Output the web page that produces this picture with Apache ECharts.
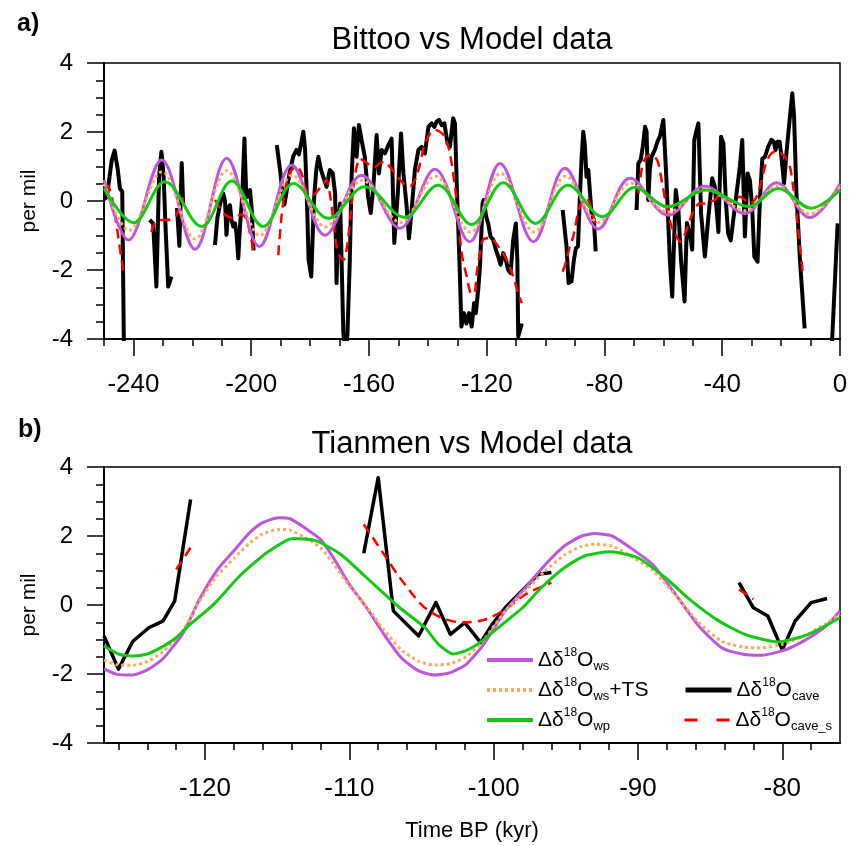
<!DOCTYPE html>
<html><head><meta charset="utf-8">
<script src="https://cdn.jsdelivr.net/npm/echarts@6/dist/echarts.min.js"></script>
<style>html,body{margin:0;padding:0;background:#fff}#c{width:851px;height:846px}</style>
</head><body><div id="c"></div>
<script>
// ---------------- Panel a : Bittoo ----------------
const aXMajor = [-240, -200, -160, -120, -80, -40, 0];
const aXMinor = [-250, -240, -230, -220, -210, -200, -190, -180, -170, -160, -150, -140, -130, -120, -110, -100, -90, -80, -70, -60, -50, -40, -30, -20, -10, 0];

// model curves (extrema)
const aWs = [[-250,0.61],[-241.7,-1.13],[-230.4,1.19],[-219.1,-1.40],[-208.3,1.24],[-197.2,-1.32],[-186.2,1.04],[-174.9,-0.99],[-162.5,0.75],[-149.5,-0.79],[-137.6,0.92],[-125.8,-1.18],[-115.5,1.09],[-104.1,-1.18],[-93.4,0.95],[-82.1,-0.81],[-71.3,0.66],[-58.3,-0.41],[-45.9,0.43],[-32.3,-0.36],[-21.5,0.53],[-10.2,-0.48],[0,0.50]];
const aWsTs = [[-250,0.50],[-241.5,-0.85],[-230.3,0.85],[-219.1,-1.10],[-208.3,0.88],[-197.0,-1.00],[-186.0,0.75],[-174.8,-0.75],[-162.3,0.60],[-149.3,-0.62],[-137.4,0.72],[-125.5,-0.90],[-115.3,0.80],[-103.8,-0.90],[-93.2,0.72],[-82.0,-0.62],[-71.0,0.52],[-58.5,-0.32],[-45.8,0.36],[-32.2,-0.28],[-21.3,0.44],[-10.3,-0.38],[0,0.42]];
const aWp = [[-250,0.37],[-240.0,-0.63],[-229.3,0.56],[-216.8,-0.74],[-206.6,0.58],[-195.9,-0.74],[-185.6,0.51],[-173.8,-0.50],[-161.4,0.41],[-147.9,-0.47],[-136.5,0.46],[-125.1,-0.68],[-114.4,0.53],[-103.4,-0.65],[-92.4,0.46],[-80.7,-0.45],[-69.7,0.39],[-58.5,-0.17],[-45.5,0.32],[-31.0,-0.16],[-21.0,0.36],[-9.8,-0.21],[0,0.32]];

// cave record (segments separated by null)
const aCave = [
 [-250.0,0.05],[-249.0,0.12],[-247.4,1.17],[-246.4,1.46],[-245.3,0.9],[-244.6,0.36],[-243.8,0.27],[-243.2,-4.6],[-240,null],
 [-234.5,-0.55],[-233.3,-0.65],[-232.2,-2.48],[-231.3,0.7],[-230.5,1.43],[-229.8,0.8],[-229.0,-0.94],[-228.2,-2.48],[-227.1,-2.19],[-226,null],
 [-225.2,-0.2],[-224.4,-1.3],[-223.6,1.1],[-223.1,-0.1],[-220,null],
 [-212.3,-1.28],[-211.5,-0.5],[-210.6,-0.1],[-209.5,0.22],[-208.9,0.0],[-208.4,-0.98],[-207.8,-0.2],[-207.2,-0.12],[-206.7,-0.55],[-206.1,-0.74],[-205.5,-0.65],[-205.0,-0.94],[-204.4,-1.66],[-203.8,-0.74],[-203.0,0.22],[-202.3,1.81],[-201.7,0.22],[-201.2,0.12],[-200.4,0.32],[-199.8,-0.26],[-199.2,-1.43],[-195,null],
 [-191.3,1.62],[-190.2,0.9],[-189.3,0.22],[-188.7,-0.1],[-186.8,0.9],[-185.7,1.3],[-184.6,1.48],[-183.8,1.35],[-183.2,1.6],[-182.3,2.01],[-181.7,1.5],[-181.2,0.41],[-180.5,-1.71],[-179.6,-2.19],[-178.7,0.0],[-177.9,0.9],[-177.2,1.28],[-176.3,0.9],
 [-174.4,0.41],[-173.3,0.9],[-172.3,0.8],[-171.5,0.22],[-171.0,-2.38],[-170.4,-0.55],[-169.8,-0.07],[-169.3,-1.71],[-168.7,-3.84],[-167.9,-4.4],[-167.3,-3.84],[-166.5,-1.71],[-165.9,0.7],[-165.1,2.11],[-164.2,1.28],[-163.4,2.2],[-162.3,1.67],[-161.4,1.28],[-160.3,0.13],[-159.4,-0.35],[-158.5,0.41],[-157.4,1.91],[-156.6,0.8],[-155.7,1.48],[-154.6,1.38],[-153.4,1.62],[-152.3,1.81],[-151.4,-1.22],[-150.2,0.22],[-149.1,1.96],[-148.3,0.8],[-147.2,-0.16],[-146.4,-1.08],[-145.5,-0.26],[-144.4,0.9],[-143.2,1.48],[-142.1,1.57],[-141.0,1.38],[-139.8,2.15],[-138.7,2.25],[-137.8,2.15],[-137.0,2.3],[-136.2,2.35],[-135.3,2.2],[-134.4,2.25],[-133.3,1.67],[-132.5,1.57],[-131.4,2.4],[-130.8,2.25],[-130.0,0.03],[-129.2,-1.9],[-128.6,-3.64],[-127.7,-3.25],[-126.9,-3.55],[-126.0,-3.25],[-125.1,-3.64],[-124.3,-2.96],[-123.7,-3.25],[-122.9,-2.58],[-122.3,-1.9],[-121.4,-0.07],[-121.0,0.03],[-120.2,-0.45],[-119.5,-0.65],[-118.7,-1.03],[-117.8,-1.12],[-116.9,-1.41],[-116.1,-1.61],[-115.3,-1.85],[-114.4,-1.51],[-113.5,-1.71],[-112.7,-2.0],[-111.9,-2.09],[-111.0,-1.12],[-110.1,-0.65],[-109.6,-1.71],[-109.3,-3.93],[-108.7,-3.95],[-108.1,-3.55],[-100,null],
 [-94.2,-0.26],[-92.9,-1.32],[-92.2,-2.38],[-91.2,-2.33],[-90.4,-1.71],[-89.7,-1.37],[-89.0,-1.32],[-88.4,0.03],[-87.8,1.19],[-87.2,2.01],[-86.7,1.67],[-86.1,0.70],[-85.5,0.9],[-84.9,0.9],[-84.4,-0.35],[-83.6,-0.55],[-83.0,-1.46],[-75,null],
 [-69.1,-0.26],[-68.5,1.09],[-67.7,1.19],[-67.0,1.57],[-66.2,2.15],[-65.7,2.01],[-65.1,0.03],[-64.6,0.9],[-64.0,1.28],[-62.9,1.48],[-61.8,1.77],[-61.2,1.86],[-60.0,2.35],[-59.0,0.7],[-57.8,-1.71],[-57.0,-2.77],[-56.3,-1.03],[-55.8,0.32],[-54.9,-0.26],[-54.0,-1.71],[-52.8,-2.91],[-52.0,-0.64],[-51.5,-0.64],[-50.9,-1.0],[-50.2,-1.41],[-49.5,1.77],[-48.7,2.06],[-48.1,2.25],[-47.2,-0.35],[-45.9,-1.61],[-44.7,-0.45],[-43.4,0.66],[-42.5,0.41],[-41.3,-0.9],[-40.4,1.86],[-39.6,1.67],[-38.8,0.03],[-38.0,-0.94],[-37.1,-1.14],[-35.7,-0.16],[-34.0,1.0],[-33.2,1.77],[-32.3,-1.03],[-31.4,0.8],[-30.6,0.6],[-29.8,-0.26],[-29.1,-1.61],[-28.0,-1.76],[-27.2,0.03],[-26.4,1.23],[-25.5,1.28],[-24.4,1.57],[-23.3,1.77],[-22.5,1.72],[-21.9,1.48],[-21.2,1.72],[-20.5,1.72],[-19.9,1.28],[-19.0,0.51],[-18.2,1.38],[-17.0,2.45],[-16.2,3.12],[-15.6,2.45],[-14.8,0.22],[-13.6,-1.71],[-12.0,-3.69],[-8,null],
 [-3.2,-4.6],[-2.6,-3.9],[-0.8,-0.65]
];
const aCaveS = [
 [-250.0,0.46],[-248.5,0.42],[-246.9,-0.07],[-245.2,-1.03],[-244.0,-1.71],[-243.2,-2.19],[-240,null],
 [-233.9,-0.9],[-232.8,-0.65],[-231.1,-0.55],[-228.9,-0.55],[-227.1,-0.53],[-226.4,null],
 [-225.6,-0.45],[-224.2,-0.15],[-223.0,0.1],[-220,null],
 [-212.3,0.03],[-210.6,-0.2],[-208.9,-0.39],[-206.6,-0.49],[-204.9,-0.44],[-203.2,-0.39],[-201.5,-0.55],[-200.4,-0.94],[-199.2,-1.43],[-195,null],
 [-190.8,-1.57],[-189.7,-0.45],[-188.5,0.32],[-187.4,0.70],[-186.2,0.9],[-184.6,1.0],[-182.9,0.8],[-181.7,0.41],[-180.6,0.22],[-178.9,0.17],[-177.2,0.32],[-175.5,0.51],[-174.4,0.61],[-173.3,0.22],[-172.1,-0.55],[-171.0,-1.32],[-169.8,-1.61],[-168.7,-1.71],[-167.6,-1.41],[-166.4,-0.55],[-165.3,0.41],[-164.2,0.99],[-163.0,1.23],[-161.4,1.14],[-159.6,1.04],[-157.9,0.99],[-156.3,1.09],[-154.6,1.14],[-152.9,0.99],[-151.2,0.80],[-149.4,0.61],[-147.7,0.46],[-146.0,0.43],[-144.4,0.61],[-143.2,0.90],[-142.1,1.28],[-141.0,1.67],[-139.2,1.96],[-137.6,2.06],[-135.9,2.01],[-134.2,1.86],[-132.5,1.38],[-130.8,0.41],[-129.6,-0.55],[-128.5,-1.51],[-126.8,-2.19],[-125.1,-2.70],[-124.0,-2.62],[-123.4,-2.09],[-122.3,-1.51],[-121.2,-1.12],[-118.9,-1.07],[-117.8,-1.12],[-116.1,-1.31],[-114.4,-1.51],[-112.7,-1.80],[-111.0,-2.19],[-109.3,-2.67],[-108.1,-2.96],[-100,null],
 [-94.2,-2.05],[-92.9,-1.71],[-91.8,-1.32],[-90.6,-1.03],[-89.5,-0.55],[-88.4,-0.16],[-87.2,0.03],[-86.1,0.08],[-85.0,-0.07],[-83.8,-0.45],[-83.0,-0.64],[-75,null],
 [-68.5,0.22],[-67.4,0.90],[-66.2,1.23],[-64.6,1.33],[-62.9,1.28],[-61.7,1.09],[-60.6,0.61],[-58.9,-0.16],[-57.2,-0.74],[-55.5,-1.03],[-54.3,-1.18],[-52.6,-0.94],[-51.0,-0.55],[-49.3,-0.21],[-47.6,-0.07],[-45.9,-0.07],[-44.2,-0.02],[-42.5,0.03],[-40.8,0.17],[-39.1,0.08],[-37.4,-0.02],[-35.7,0.03],[-34.0,0.12],[-32.3,0.03],[-30.6,-0.07],[-28.9,0.03],[-27.2,0.41],[-25.5,0.99],[-23.8,1.33],[-22.1,1.43],[-20.4,1.40],[-18.7,1.28],[-17.0,0.99],[-15.9,0.41],[-14.8,-0.35],[-13.6,-1.32],[-12.5,-2.19]
];

// ---------------- Panel b : Tianmen ----------------
const bXMajor = [-120, -110, -100, -90, -80];
const bXMinor = [-126, -124, -122, -120, -118, -116, -114, -112, -110, -108, -106, -104, -102, -100, -98, -96, -94, -92, -90, -88, -86, -84, -82, -80, -78];

const bWs = [[-127.0,-1.85],[-126.1,-2.01],[-125.0,-2.03],[-123.9,-1.86],[-122.9,-1.55],[-121.5,-0.80],[-120.4,0.15],[-119.2,0.99],[-118.0,1.57],[-116.9,2.10],[-116.0,2.39],[-114.9,2.53],[-114.1,2.50],[-113.1,2.24],[-112.0,1.90],[-111.1,1.37],[-110.0,0.60],[-108.8,-0.08],[-107.6,-0.85],[-106.4,-1.53],[-105.2,-1.91],[-104.1,-2.03],[-103.0,-1.96],[-101.9,-1.72],[-100.7,-1.15],[-99.2,-0.17],[-97.8,0.50],[-96.4,1.18],[-95.1,1.71],[-93.9,2.00],[-93.0,2.07],[-91.8,2.00],[-90.7,1.71],[-89.0,1.18],[-87.4,0.31],[-85.8,-0.60],[-84.2,-1.24],[-82.7,-1.43],[-81.5,-1.46],[-80.0,-1.33],[-78.5,-1.04],[-77.0,-0.62],[-76.0,-0.17]];
const bWsTs = [[-127.0,-1.60],[-126.1,-1.73],[-125.0,-1.75],[-123.9,-1.62],[-122.9,-1.35],[-121.5,-0.72],[-120.4,0.10],[-119.2,0.83],[-118.0,1.35],[-116.9,1.80],[-116.0,2.06],[-114.9,2.19],[-114.1,2.17],[-113.1,1.96],[-112.0,1.66],[-111.1,1.20],[-110.0,0.55],[-108.8,-0.05],[-107.6,-0.72],[-106.4,-1.30],[-105.2,-1.63],[-104.1,-1.74],[-103.0,-1.70],[-101.9,-1.50],[-100.7,-1.02],[-99.2,-0.18],[-97.8,0.42],[-96.4,1.00],[-95.1,1.45],[-93.9,1.70],[-93.0,1.76],[-91.8,1.71],[-90.7,1.47],[-89.0,1.02],[-87.4,0.28],[-85.8,-0.50],[-84.2,-1.05],[-82.7,-1.22],[-81.5,-1.24],[-80.0,-1.14],[-78.5,-0.90],[-77.0,-0.55],[-76.0,-0.27]];
const bWp = [[-127.0,-1.19],[-126.0,-1.42],[-125.0,-1.48],[-124.0,-1.42],[-123.0,-1.22],[-122.0,-0.95],[-121.3,-0.66],[-119.4,0.02],[-117.6,0.84],[-115.7,1.52],[-113.9,1.93],[-112.3,1.86],[-110.6,1.47],[-108.8,0.79],[-106.5,-0.08],[-104.75,-0.66],[-103.8,-1.15],[-102.8,-1.42],[-101.8,-1.30],[-100.8,-1.04],[-99.4,-0.56],[-98.0,-0.08],[-96.7,0.50],[-95.1,1.08],[-93.7,1.42],[-91.9,1.54],[-90.0,1.37],[-88.1,0.79],[-86.3,0.12],[-84.4,-0.46],[-82.6,-0.85],[-80.3,-1.07],[-78.2,-0.85],[-76.0,-0.37]];
const bCave = [
 [-127.0,-0.90],[-126.0,-1.86],[-125.0,-1.05],[-123.9,-0.66],[-122.9,-0.46],[-122.1,0.12],[-121.0,3.06],[-115,null],
 [-109.0,1.50],[-108.0,3.69],[-106.95,-0.17],[-105.2,-0.90],[-104.0,0.07],[-103.0,-0.85],[-102.0,-0.51],[-100.9,-1.09],[-100.1,-0.56],[-99.2,-0.08],[-98.05,0.41],[-96.9,0.89],[-96.0,0.94],[-90,null],
 [-83.0,0.65],[-82.0,-0.08],[-81.0,-0.32],[-80.0,-1.30],[-79.1,-0.46],[-78.0,0.07],[-76.9,0.19]
];
const bCaveS = [
 [-122.0,1.03],[-121.0,1.66],[-115,null],
 [-109.0,2.34],[-107.6,1.47],[-106.5,0.79],[-104.9,-0.03],[-103.6,-0.37],[-102.1,-0.51],[-100.6,-0.42],[-99.2,-0.13],[-97.8,0.31],[-96.0,0.65],[-90,null],
 [-83.0,0.45],[-82.0,0.17]
];

const legendLabels = {
  ws: 'Δδ{sup|18}O{sub|ws}',
  wsTS: 'Δδ{sup|18}O{sub|ws}+TS',
  wp: 'Δδ{sup|18}O{sub|wp}',
  cave: 'Δδ{sup|18}O{sub|cave}',
  caveS: 'Δδ{sup|18}O{sub|cave_s}'
};

// ---------------- styling ----------------
const FONT = 'Liberation Sans, Arial, Helvetica, sans-serif';
const COL = { ws: '#BE55DC', wsTS: '#FFA860', wp: '#14C814', cave: '#000000', caveS: '#FF0000' };

function xAxes(grid, min, max, major, minor, name) {
  const base = { type: 'value', gridIndex: grid, min: min, max: max, position: 'bottom', splitLine: { show: false } };
  return [
    Object.assign({}, base, {
      axisLine: { show: true, onZero: false, lineStyle: { color: '#000', width: 2 } },
      axisTick: { show: true, customValues: major, length: 17, lineStyle: { color: '#000', width: 1.5 } },
      axisLabel: { show: true, customValues: major, margin: 33, fontSize: 26, color: '#000', fontFamily: FONT },
      name: name || '', nameLocation: 'middle', nameGap: 77,
      nameTextStyle: { fontSize: 22, color: '#000', fontFamily: FONT }
    }),
    Object.assign({}, base, {
      axisLine: { show: false, onZero: false },
      axisTick: { show: true, customValues: minor, length: 7, lineStyle: { color: '#000', width: 1.5 } },
      axisLabel: { show: false }
    })
  ];
}
function yAxis(grid) {
  return {
    type: 'value', gridIndex: grid, min: -4, max: 4, interval: 2,
    splitLine: { show: false },
    axisLine: { show: true, onZero: false, lineStyle: { color: '#000', width: 2 } },
    axisTick: { show: true, length: 17, lineStyle: { color: '#000', width: 1.5 } },
    minorTick: { show: true, splitNumber: 4, length: 8, lineStyle: { color: '#000', width: 1.5 } },
    axisLabel: { margin: 31, fontSize: 24, color: '#000', fontFamily: FONT },
    name: 'per mil', nameLocation: 'middle', nameGap: 64,
    nameTextStyle: { fontSize: 21, color: '#000', fontFamily: FONT }
  };
}
function ser(name, xi, yi, data, width, type, smooth) {
  return {
    name: name, type: 'line', xAxisIndex: xi, yAxisIndex: yi, data: data,
    symbol: 'none', showSymbol: false, smooth: smooth || false, connectNulls: false, clip: true,
    lineStyle: { color: COL[name], width: width, type: type || 'solid', cap: 'butt', join: 'round' },
    itemStyle: { color: COL[name] },
    emphasis: { disabled: true }
  };
}

const legendPos = [
  { name: 'ws', left: 485, top: 647, w: 4, type: 'solid' },
  { name: 'wsTS', left: 485, top: 677, w: 4, type: [3, 3] },
  { name: 'wp', left: 485, top: 707, w: 4, type: 'solid' },
  { name: 'cave', left: 683, top: 677, w: 5, type: 'solid' },
  { name: 'caveS', left: 683, top: 707, w: 3, type: [13, 19] }
];

const option = {
  animation: false,
  backgroundColor: '#ffffff',
  textStyle: { fontFamily: FONT },
  grid: [
    { left: 104, top: 63, width: 736, height: 276, show: true, borderColor: '#000', borderWidth: 1.5, backgroundColor: 'transparent', outerBoundsMode: 'none' },
    { left: 104, top: 467, width: 736, height: 276, show: true, borderColor: '#000', borderWidth: 1.5, backgroundColor: 'transparent', outerBoundsMode: 'none' }
  ],
  xAxis: [].concat(
    xAxes(0, -250, 0, aXMajor, aXMinor, ''),
    xAxes(1, -127, -76, bXMajor, bXMinor, 'Time BP (kyr)')
  ),
  yAxis: [yAxis(0), yAxis(1)],
  legend: legendPos.map(function (p) {
    return {
      data: [{ name: p.name, itemStyle: { opacity: 0 }, lineStyle: { width: p.w, type: p.type, opacity: 1 } }],
      left: p.left, top: p.top, padding: 0,
      itemWidth: 46, itemHeight: 26, selectedMode: false,
      itemStyle: { opacity: 0 },
      formatter: function (n) { return legendLabels[n]; },
      textStyle: {
        fontSize: 21, color: '#000', fontFamily: FONT, lineHeight: 26,
        rich: {
          sup: { fontSize: 12, lineHeight: 13, verticalAlign: 'top', color: '#000', fontFamily: FONT },
          sub: { fontSize: 13, lineHeight: 13, verticalAlign: 'bottom', color: '#000', fontFamily: FONT }
        }
      }
    };
  }),
  graphic: [
    { type: 'text', left: 17, top: 12, style: { text: 'a)', font: 'bold 25px ' + FONT, fill: '#000' } },
    { type: 'text', x: 472, y: 40, style: { text: 'Bittoo vs Model data', font: '31px ' + FONT, fill: '#000', textAlign: 'center', textVerticalAlign: 'middle' } },
    { type: 'text', left: 18, top: 418, style: { text: 'b)', font: 'bold 25px ' + FONT, fill: '#000' } },
    { type: 'text', x: 472, y: 444, style: { text: 'Tianmen vs Model data', font: '31px ' + FONT, fill: '#000', textAlign: 'center', textVerticalAlign: 'middle' } }
  ],
  series: [
    ser('cave', 0, 0, aCave, 4, 'solid', false),
    ser('caveS', 0, 0, aCaveS, 2.5, [10, 6], 0.3),
    ser('ws', 0, 0, aWs, 3, 'solid', 0.36),
    ser('wsTS', 0, 0, aWsTs, 3, [3, 3], 0.36),
    ser('wp', 0, 0, aWp, 3, 'solid', 0.36),
    ser('cave', 2, 1, bCave, 3.5, 'solid', false),
    ser('caveS', 2, 1, bCaveS, 2.5, [10, 6], 0.3),
    ser('ws', 2, 1, bWs, 3, 'solid', 0.2),
    ser('wsTS', 2, 1, bWsTs, 3, [3, 3], 0.2),
    ser('wp', 2, 1, bWp, 3, 'solid', 0.2)
  ]
};

const chart = echarts.init(document.getElementById('c'), null, { renderer: 'canvas', width: 851, height: 846 });
chart.setOption(option);
</script>
</body></html>
